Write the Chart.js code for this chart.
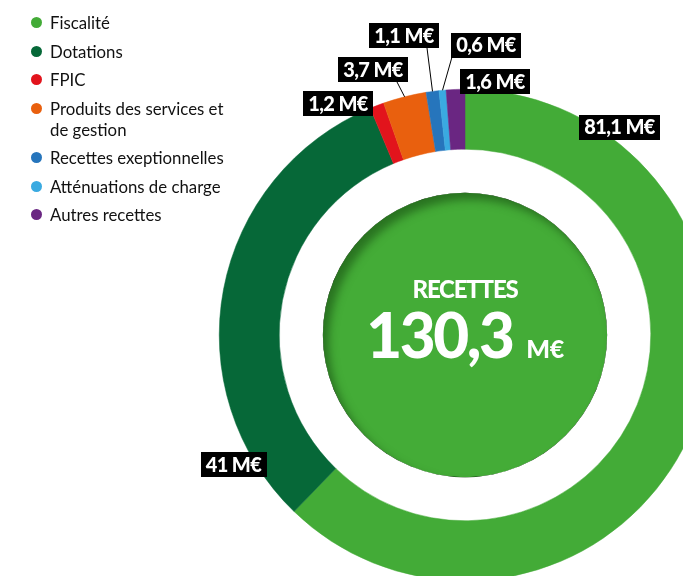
<!DOCTYPE html>
<html>
<head>
<meta charset="utf-8">
<script src="https://cdn.jsdelivr.net/npm/chart.js@4"></script>
<style>
  html, body { margin: 0; padding: 0; width: 683px; height: 576px; overflow: hidden; background: #fff; }
  #c { position: absolute; left: 0; top: 0; }
  #legend { position: absolute; left: 31px; top: 12px; margin: 0; padding: 0; list-style: none;
            font-family: Lato, "Liberation Sans", sans-serif; font-size: 16.8px; color: #111; }
  #legend li { position: relative; padding-left: 19px; width: 182px; line-height: 21px; margin-bottom: 7.5px; }
  #legend li span.dot { position: absolute; left: 0; top: 5px; width: 11px; height: 11px; border-radius: 50%; }
</style>
</head>
<body>
<canvas id="c" width="711" height="581"></canvas>
<ul id="legend"></ul>
<script>
// ---- data ----
const categories = ["Fiscalité", "Dotations", "FPIC", "Produits des services et de gestion",
                    "Recettes exeptionnelles", "Atténuations de charge", "Autres recettes"];
const values = [81.1, 41, 1.2, 3.7, 1.1, 0.6, 1.6];
const colors = ["#43ab37", "#066838", "#e2141c", "#e9600e", "#2675bc", "#3aaae1", "#6a2682"];
const centerTitle = "RECETTES";
const unit = "M€";

// ---- label layout (offsets of box centres from the doughnut centre, leader end) ----
const labelLayout = [
  { dx: 154.5, dy: -208,   line: null },
  { dx: -231.5, dy: 129.5, line: null },
  { dx: -127,  dy: -231.5, line: null },
  { dx: -92,   dy: -265.5, line: [-68, -253] },
  { dx: -61,   dy: -299.5, line: [-38, -287] },
  { dx: 21,    dy: -290,   line: [-13, -278] },
  { dx: 30,    dy: -253.5, line: null }
];

const fmt = v => String(v).replace('.', ',');
const total = values.reduce((a, b) => a + b, 0);

// legend (HTML)
const leg = document.getElementById('legend');
categories.forEach((c, i) => {
  const li = document.createElement('li');
  const dot = document.createElement('span');
  dot.className = 'dot';
  dot.style.background = colors[i];
  li.appendChild(dot);
  li.appendChild(document.createTextNode(c));
  leg.appendChild(li);
});

const centerPlugin = {
  id: 'centerDisc',
  afterDatasetsDraw(chart, args, opts) {
    const arc = chart.getDatasetMeta(0).data[0];
    const cx = arc.x, cy = arc.y, r = arc.innerRadius * opts.ratio;
    const ctx = chart.ctx;
    ctx.save();
    ctx.beginPath(); ctx.arc(cx, cy, r, 0, Math.PI * 2);
    ctx.fillStyle = opts.color; ctx.fill();
    ctx.clip();
    ctx.beginPath(); ctx.arc(cx, cy, r + 30, 0, Math.PI * 2);
    ctx.lineWidth = 60; ctx.strokeStyle = '#000';
    ctx.shadowColor = 'rgba(20,70,15,0.55)'; ctx.shadowBlur = 9;
    ctx.shadowOffsetX = 6; ctx.shadowOffsetY = 7;
    ctx.stroke();
    ctx.restore();

    ctx.save();
    ctx.fillStyle = '#fff';
    ctx.textBaseline = 'alphabetic';
    ctx.textAlign = 'center';
    ctx.font = '900 24px Lato, sans-serif';
    ctx.letterSpacing = '-1.2px';
    ctx.fillText(centerTitle, cx, cy - 37);
    const big = fmt(total.toFixed(1));
    ctx.font = '900 62px Lato, sans-serif';
    ctx.letterSpacing = '-2.5px';
    const w1 = ctx.measureText(big).width;
    ctx.font = '900 25px Lato, sans-serif';
    ctx.letterSpacing = '-0.5px';
    const w2 = ctx.measureText(unit).width;
    const gap = 14;
    const x0 = cx - (w1 + gap + w2) / 2;
    ctx.textAlign = 'left';
    ctx.font = '900 62px Lato, sans-serif';
    ctx.letterSpacing = '-2.5px';
    ctx.fillText(big, x0, cy + 23);
    ctx.font = '900 25px Lato, sans-serif';
    ctx.letterSpacing = '-0.5px';
    ctx.fillText(unit, x0 + w1 + gap, cy + 23);
    ctx.restore();
  }
};

const labelPlugin = {
  id: 'valueBoxes',
  afterDraw(chart) {
    const meta = chart.getDatasetMeta(0);
    const ctx = chart.ctx;
    const cx = meta.data[0].x, cy = meta.data[0].y;
    ctx.save();
    values.forEach((v, i) => {
      const L = labelLayout[i];
      const el = meta.data[i];
      if (L.line) {
        const mid = (el.startAngle + el.endAngle) / 2;
        const ax = cx + Math.cos(mid) * el.outerRadius;
        const ay = cy + Math.sin(mid) * el.outerRadius;
        ctx.beginPath();
        ctx.moveTo(ax, ay);
        ctx.lineTo(cx + L.line[0], cy + L.line[1]);
        ctx.strokeStyle = '#000'; ctx.lineWidth = 1; ctx.stroke();
      }
      const txt = fmt(v) + ' ' + unit;
      ctx.font = '900 20px Lato, sans-serif';
      ctx.letterSpacing = '-0.6px';
      const w = ctx.measureText(txt).width + 10;
      const h = 25;
      const bx = cx + L.dx, by = cy + L.dy;
      ctx.fillStyle = '#000';
      ctx.fillRect(Math.round(bx - w / 2), Math.round(by - h / 2), Math.round(w), h);
      ctx.fillStyle = '#fff';
      ctx.textAlign = 'center';
      ctx.textBaseline = 'middle';
      ctx.fillText(txt, bx, by + 1);
    });
    ctx.restore();
  }
};

new Chart(document.getElementById('c'), {
  type: 'doughnut',
  data: {
    labels: categories,
    datasets: [{
      data: values,
      backgroundColor: colors,
      borderColor: colors,
      borderWidth: 0.5
    }]
  },
  options: {
    responsive: false,
    animation: false,
    cutout: '75.6%',
    layout: { padding: { left: 219, top: 89, right: 0, bottom: 0 } },
    plugins: {
      legend: { display: false },
      tooltip: { enabled: false },
      centerDisc: { ratio: 0.765, color: '#44ac37' }
    }
  },
  plugins: [centerPlugin, labelPlugin]
});
</script>
</body>
</html>
